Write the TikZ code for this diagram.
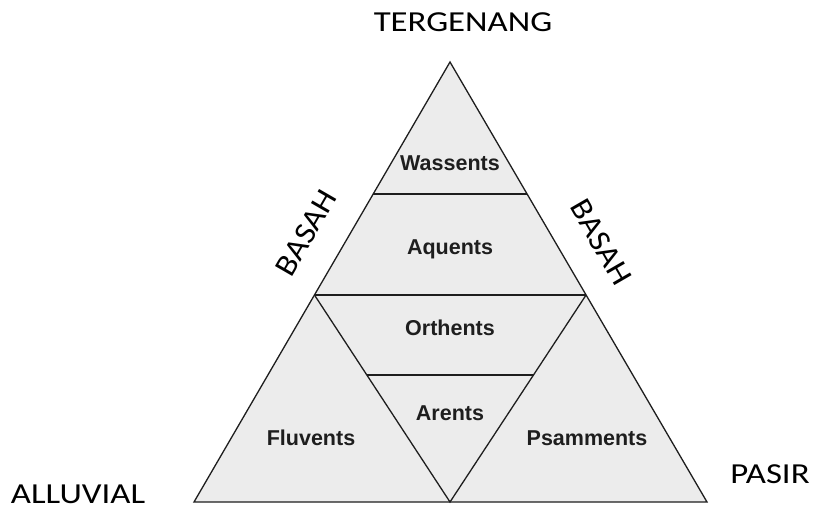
\documentclass[tikz,border=0pt]{standalone}
\usepackage{fontspec}
\usepackage{graphicx}
\setmainfont{Carlito}
\newfontfamily\soilfont{Liberation Sans}
\usetikzlibrary{calc}
\definecolor{soilgrey}{RGB}{236,236,236}
\definecolor{inkline}{RGB}{30,30,30}
\begin{document}
\begin{tikzpicture}[x=1pt,y=-1pt,
  edge/.style={line width=1.3pt, draw=inkline, line join=miter},
  soil/.style={font=\soilfont\bfseries\fontsize{21.5}{21.5}\selectfont, inner sep=0pt, anchor=base, text=inkline},
  axislabel/.style={font=\fontsize{29}{29}\selectfont, inner sep=0pt, text=black},
  sidelabel/.style={font=\fontsize{31}{31}\selectfont, inner sep=0pt, text=black}]
\useasboundingbox (0,0) rectangle (816,509);
% vertices
\coordinate (T) at (450,62);
\coordinate (L) at (194,502);
\coordinate (R) at (707,502);
\coordinate (MB) at (450,502);
\coordinate (WL) at ($(T)!0.3!(L)$);
\coordinate (WR) at ($(T)!0.3!(R)$);
\coordinate (ML) at ($(T)!0.5295!(L)$);
\coordinate (MR) at ($(T)!0.5295!(R)$);
\coordinate (AL) at ($(ML)!0.3865!(MB)$);
\coordinate (AR) at ($(MR)!0.3865!(MB)$);
% triangle
\fill[soilgrey] (T) -- (L) -- (R) -- cycle;
\draw[edge] (T) -- (L) -- (R) -- cycle;
\draw[edge] (WL) -- (WR);
\draw[edge] (ML) -- (MR);
\draw[edge] (ML) -- (MB) -- (MR);
\draw[edge] (AL) -- (AR);
% soil names
\node[soil] (wassents) at (450,170) {Wassents};
\node[soil] (aquents) at (450,254) {Aquents};
\node[soil] (orthents) at (450,335) {Orthents};
\node[soil] (arents) at (450,420) {Arents};
\node[soil] (fluvents) at (311,445) {Fluvents};
\node[soil] (psamments) at (587,445) {Psamments};
% axis labels
\node[axislabel] (tergenang) at (463,22) {\scalebox{1.2}[1]{TERGENANG}};
\node[axislabel] (alluvial) at (78,494) {\scalebox{1.2}[1]{ALLUVIAL}};
\node[axislabel] (pasir) at (770,474) {\scalebox{1.2}[1]{PASIR}};
\node[sidelabel, rotate=60] (basahL) at (306,233) {\scalebox{1.08}[1]{BASAH}};
\node[sidelabel, rotate=-60] (basahR) at (601,242) {\scalebox{1.08}[1]{BASAH}};
\end{tikzpicture}
\end{document}
